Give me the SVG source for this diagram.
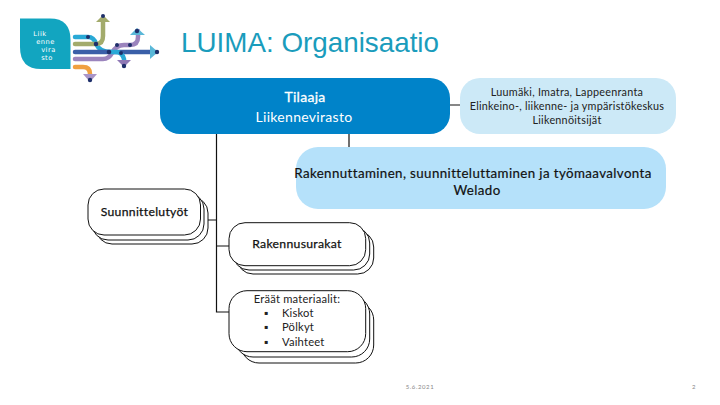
<svg xmlns="http://www.w3.org/2000/svg" width="720" height="405" viewBox="0 0 720 405">
<style>
text{font-family:Lato,"Open Sans","Liberation Sans",sans-serif;text-anchor:middle}
.con{fill:none;stroke:#111;stroke-width:1.2}
.box{fill:#fff;stroke:#111;stroke-width:1}
.l{fill:none;stroke-linecap:round;stroke-linejoin:round;stroke-width:4.5}
.b{font-size:13.300px;fill:#111;stroke:#111;stroke-width:.2;letter-spacing:.4px}
.n{font-size:12.200px;fill:#111;stroke:#111;stroke-width:.25;letter-spacing:.3px}
.s{font-size:10.800px;fill:#222;letter-spacing:.25px}
.m{font-size:11.200px;fill:#222;letter-spacing:.2px}
.w{font-size:14px;fill:#fff;letter-spacing:.3px}
.f{font-size:6px;fill:#888;letter-spacing:.6px}
.lg{font-family:"DejaVu Sans",sans-serif;font-size:6.700px;fill:#fff;letter-spacing:.5px}
</style>
<rect width="720" height="405" fill="#fff"/>
<g id="logo">
<path d="M20 18.500H50Q70.500 18.500 70.500 40V69H41Q20 69 20 47Z" fill="#12a5c0"/>
<text class="lg" x="40" y="36">Liik</text><text class="lg" x="45.500" y="44">enne</text><text class="lg" x="48.500" y="52">vira</text><text class="lg" x="47" y="60">sto</text>
<path class="l" d="M75 37H88Q94 37 96 44Q100 52 110 52" stroke="#29a9d6"/>
<path class="l" d="M75 44H96Q103 44 103 36V19" stroke="#a3ab6c"/>
<path class="l" d="M75 52H155" stroke="#3a5fa8"/>
<path class="l" d="M75 59H103Q109 59 112 53Q116 45 124 45H130Q138 45 138 37V31" stroke="#9b84bd"/>
<path class="l" d="M110 52H116Q122 52 124 59V64" stroke="#29a9d6"/>
<path class="l" d="M75 67H83Q90 67 90 74V78" stroke="#f0a040"/>
<path d="M96 22L103 15 110 22Z" fill="#a3ab6c"/><path d="M130 35L137 28 145 35Z" fill="#5ab8d8"/><path d="M150 45L158 52 150 59Z" fill="#5ab8d8"/><path d="M117 60L124 67 131 60Z" fill="#8f79b5"/><path d="M83 74L90 82 97 74Z" fill="#a995c8"/>
<g fill="#1e2f6a"><circle cx="88" cy="37" r="2"/><circle cx="96" cy="44" r="2.300"/><circle cx="109" cy="52" r="2.300"/><circle cx="117" cy="45" r="2"/><circle cx="130" cy="45" r="2"/><circle cx="121" cy="53" r="2"/><circle cx="124" cy="66" r="2.200"/><circle cx="103" cy="16" r="2"/><circle cx="137" cy="31" r="2.200"/><circle cx="157" cy="52" r="2.200"/><circle cx="90" cy="80" r="2.200"/></g>
</g>
<text id="title" x="310" y="52" style="font-family:'Liberation Sans',Arial,sans-serif;font-size:27.800px;fill:#1a9cbc">LUIMA: Organisaatio</text>
<g id="connectors">
<path class="con" d="M216.500 134V312H229M200 220H216.500M216.500 246H229M349 134V148M450 105H460"/>
</g>
<g id="tilaaja">
<rect x="160" y="78" width="290" height="56" rx="20" fill="#0083c9"/>
<text class="w" x="305" y="101.500" stroke="#fff" stroke-width=".3">Tilaaja</text>
<text class="w" x="304" y="121.500">Liikennevirasto</text>
</g>
<g id="sidosryhmat">
<rect x="460" y="78" width="216" height="56" rx="20" fill="#cce9f7"/>
<text class="s" x="567" y="96">Luumäki, Imatra, Lappeenranta</text>
<text class="s" x="567" y="110">Elinkeino-, liikenne- ja ympäristökeskus</text>
<text class="s" x="567" y="124">Liikennöitsijät</text>
</g>
<g id="rakennuttaminen">
<rect x="296" y="147" width="370" height="62" rx="22" fill="#b5e1fa"/>
<text class="b" x="473" y="177.500">Rakennuttaminen, suunnitteluttaminen ja työmaavalvonta</text>
<text class="b" x="477" y="195">Welado</text>
</g>
<g id="suunnittelutyot">
<rect class="box" x="96" y="197" width="112" height="47" rx="16"/>
<rect class="box" x="92" y="193" width="112" height="47" rx="16"/>
<rect class="box" x="88" y="189" width="112.500" height="46" rx="16"/>
<text class="n" x="144.500" y="216">Suunnittelutyöt</text>
</g>
<g id="rakennusurakat">
<rect class="box" x="237" y="231" width="136.700" height="43" rx="16"/>
<rect class="box" x="233" y="227" width="136.700" height="43" rx="16"/>
<rect class="box" x="229" y="222.700" width="136.700" height="43" rx="16"/>
<text class="n" x="297" y="248">Rakennusurakat</text>
</g>
<g id="materiaalit">
<rect class="box" x="241" y="302" width="132.700" height="61" rx="18"/>
<rect class="box" x="235" y="296" width="134.700" height="61" rx="18"/>
<rect class="box" x="229" y="290.700" width="136.700" height="61" rx="18"/>
<text class="m" x="297" y="303">Eräät materiaalit:</text>
<text class="m" x="266" y="317">▪</text><text class="m" x="282" y="317" style="text-anchor:start">Kiskot</text>
<text class="m" x="266" y="331">▪</text><text class="m" x="282" y="331" style="text-anchor:start">Pölkyt</text>
<text class="m" x="266" y="346">▪</text><text class="m" x="282" y="346" style="text-anchor:start">Vaihteet</text>
</g>
<text class="f" x="420" y="389">5.6.2021</text>
<text class="f" x="694" y="389">2</text>
</svg>
